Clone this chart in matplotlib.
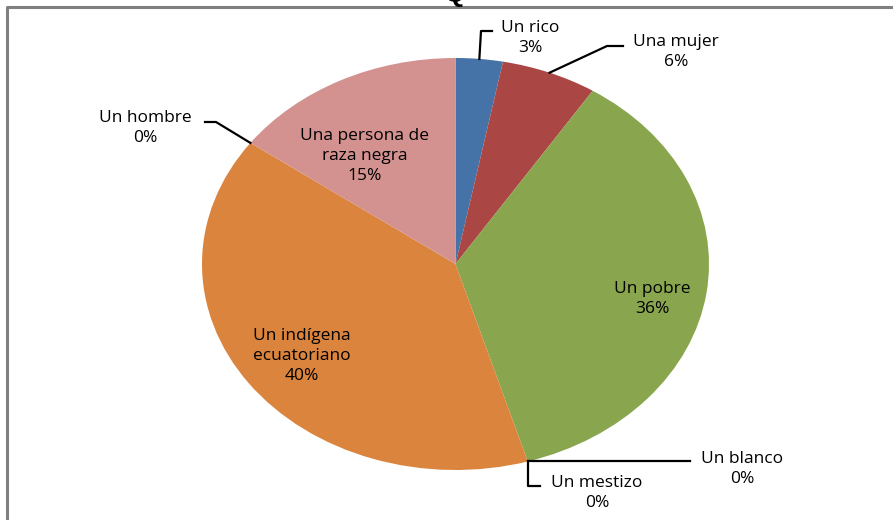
import matplotlib
matplotlib.use("Agg")
import matplotlib.pyplot as plt
import numpy as np

# ---- data ----
categories = ["Un rico", "Una mujer", "Un pobre", "Un blanco", "Un mestizo",
              "Un indígena\necuatoriano", "Un hombre", "Una persona de\nraza negra"]
values = [3.0, 6.1, 36.3, 0.0, 0.0, 39.6, 0.0, 15.0]
pct_labels = ["3%", "6%", "36%", "0%", "0%", "40%", "0%", "15%"]
colors = ["#4572A7", "#AA4643", "#89A54E", "#80699B", "#3D96AE",
          "#DB843D", "#92A8CD", "#D39290"]

W, H = 893, 520
fig = plt.figure(figsize=(W / 100, H / 100), dpi=100)
fig.patch.set_facecolor("white")

# pie bounding box in pixels (ellipse)
left, right, top, bottom = 202, 709, 58, 470
ax = fig.add_axes([left / W, (H - bottom) / H, (right - left) / W, (bottom - top) / H])
wedges, _ = ax.pie(values, colors=colors, startangle=90, counterclock=False,
                   radius=1, wedgeprops=dict(linewidth=0))
ax.set_aspect("auto")
ax.set_xlim(-1, 1)
ax.set_ylim(-1, 1)
ax.axis("off")

# overlay in pixel coordinates
ov = fig.add_axes([0, 0, 1, 1], zorder=5)
ov.set_xlim(0, W)
ov.set_ylim(H, 0)
ov.axis("off")
ov.patch.set_alpha(0)

cx, cy = (left + right) / 2, (top + bottom) / 2
rx, ry = (right - left) / 2, (bottom - top) / 2

def edge_px(theta_deg):
    t = np.deg2rad(theta_deg)
    return cx + rx * np.cos(t), cy - ry * np.sin(t)

font = dict(family=["Open Sans", "DejaVu Sans"], fontsize=12.5, color="black")

# label positions (pixel centers) per category
label_pos = [(530, 38), (676, 52), (652, 299), (742, 469), (597, 493),
             (302, 356), (145, 128), (365, 156)]
for cat, pct, (x, y) in zip(categories, pct_labels, label_pos):
    ov.text(x, y, cat + "\n" + pct, ha="center", va="center",
            linespacing=1.3, **font)

# leader lines
lw = 1.6
w = wedges
# Un rico (mid angle)
p = edge_px((w[0].theta1 + w[0].theta2) / 2)
ov.plot([p[0], 481, 492], [p[1], 31, 31], color="black", lw=lw)
# Una mujer
p = edge_px((w[1].theta1 + w[1].theta2) / 2)
ov.plot([p[0], 607, 623], [p[1], 46, 46], color="black", lw=lw)
# Un blanco
p = edge_px(w[3].theta1)
ov.plot([p[0], 690], [p[1], p[1]], color="black", lw=lw)
# Un mestizo
p = edge_px(w[4].theta1)
ov.plot([p[0], p[0], 540], [p[1], 486, 486], color="black", lw=lw)
# Un hombre
p = edge_px(w[6].theta1)
ov.plot([p[0], 216, 205], [p[1], 122, 122], color="black", lw=lw)

# chart frame
ov.plot([7, 7, W], [H, 6.5, 6.5], color="#808080", lw=2.2, solid_capstyle="butt")

# cut-off title (only its lower edge shows above the frame)
ov.text(455, 1, "Q", ha="center", va="baseline", fontsize=20, fontweight="bold",
        family="Liberation Sans", color="black")

fig.savefig("out.png", dpi=100)
